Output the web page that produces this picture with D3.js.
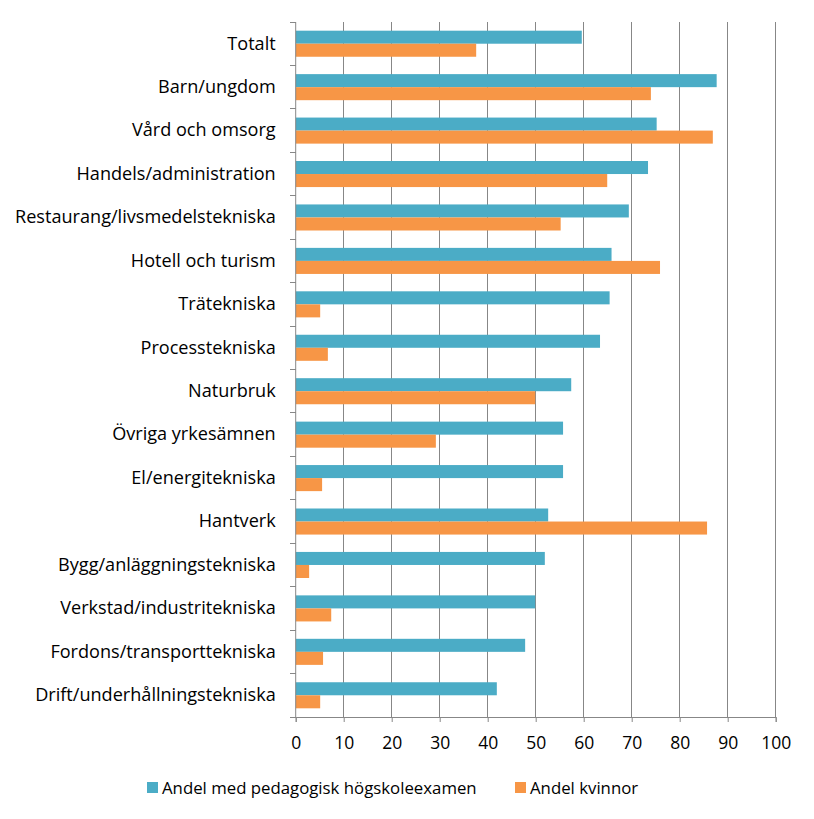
<!DOCTYPE html>
<html><head><meta charset="utf-8">
<script src="https://cdn.jsdelivr.net/npm/d3@7"></script>
<style>body{margin:0;background:#fff}svg text{font-family:"Open Sans",sans-serif;fill:#000}</style>
</head><body><svg id="c" width="814" height="819"></svg>
<script>
const categories = ["Totalt","Barn/ungdom","Vård och omsorg","Handels/administration","Restaurang/livsmedelstekniska","Hotell och turism","Trätekniska","Processtekniska","Naturbruk","Övriga yrkesämnen","El/energitekniska","Hantverk","Bygg/anläggningstekniska","Verkstad/industritekniska","Fordons/transporttekniska","Drift/underhållningstekniska"];
const pedagogisk = [59.6,87.7,75.2,73.4,69.4,65.8,65.4,63.4,57.4,55.7,55.7,52.6,51.9,49.9,47.8,41.9];
const kvinnor = [37.6,74.0,86.9,64.9,55.2,75.9,5.1,6.7,49.9,29.2,5.5,85.7,2.8,7.4,5.7,5.1];
const seriesNames = ["Andel med pedagogisk högskoleexamen","Andel kvinnor"];
const xTicks = [0,10,20,30,40,50,60,70,80,90,100];
const colors = ["#4BACC6","#F79646"];

const svg = d3.select("#c");
const L=295.7, R=775.7, T=22, B=717;
const x = d3.scaleLinear().domain([0,100]).range([L,R]);
const y = d3.scaleBand().domain(categories).range([T,B]).paddingInner(0.4).paddingOuter(0.2);
const ySub = d3.scaleBand().domain([0,1]).range([0,y.bandwidth()]);
const grid = "#878787";
const FONT = "'Open Sans',sans-serif";

// gridlines
svg.append("g").selectAll("line").data(xTicks.slice(1)).join("line")
  .attr("x1",d=>x(d)).attr("x2",d=>x(d)).attr("y1",T).attr("y2",B)
  .attr("stroke",grid).attr("stroke-width",1).attr("shape-rendering","crispEdges");

// bars
const data = categories.map((c,i)=>({c, v:[pedagogisk[i],kvinnor[i]]}));
const g = svg.append("g");
data.forEach(d=>{
  d.v.forEach((v,k)=>{
    g.append("rect").attr("x",x(0)).attr("y",y(d.c)+ySub(k))
     .attr("width",x(v)-x(0)).attr("height",ySub.bandwidth()).attr("fill",colors[k]);
  });
});

// x axis
const xAxis = d3.axisBottom(x).tickValues(xTicks).tickSize(5).tickPadding(15);
const xg = svg.append("g").attr("transform",`translate(0,${B})`).call(xAxis);
xg.select(".domain").attr("stroke",grid);
xg.selectAll(".tick line").attr("stroke",grid);
xg.selectAll("text").attr("font-size",17.5).style("font-family",FONT);

// y axis
const yAxis = d3.axisLeft(y).tickSize(0).tickPadding(20);
const yg = svg.append("g").attr("transform",`translate(${L},0)`).call(yAxis);
yg.select(".domain").attr("stroke",grid).attr("d",`M0,${T}V${B}`);
yg.selectAll("text").attr("font-size",18.1).style("font-family",FONT);
// category separator ticks
const step = (B-T)/categories.length;
svg.append("g").selectAll("line").data(d3.range(categories.length+1)).join("line")
  .attr("x1",L-6).attr("x2",L).attr("y1",i=>T+i*step).attr("y2",i=>T+i*step)
  .attr("stroke",grid).attr("shape-rendering","crispEdges");

// legend
const leg = svg.append("g");
const legX=[147,515];
seriesNames.forEach((n,k)=>{
  leg.append("rect").attr("x",legX[k]).attr("y",782).attr("width",11).attr("height",11).attr("fill",colors[k]);
  leg.append("text").attr("x",legX[k]+15).attr("y",794).attr("font-size",16.8).text(n);
});
</script></body></html>
